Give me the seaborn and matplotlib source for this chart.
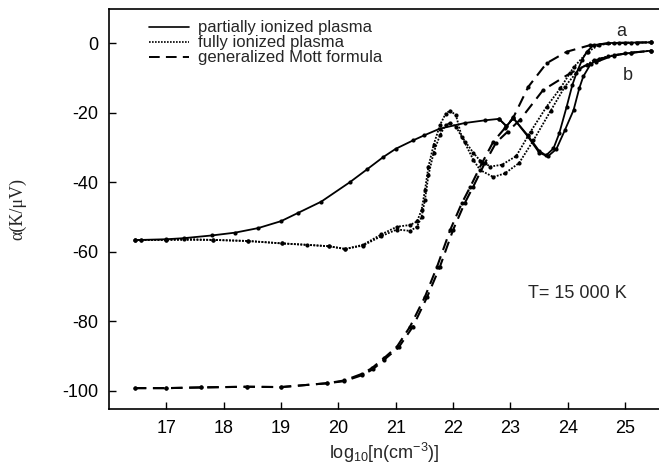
import matplotlib
matplotlib.use("Agg")
import matplotlib.pyplot as plt
from matplotlib.lines import Line2D
import seaborn as sns

# ---- data ----
partial_a_x = [16.45, 16.55, 17.0, 17.3, 17.8, 18.2, 18.6, 19.0, 19.3, 19.7, 20.2, 20.5, 20.78,
               21.0, 21.3, 21.5, 21.77, 22.2, 22.56, 22.8, 22.93, 23.05, 23.3, 23.5, 23.62,
               23.75, 23.85, 23.98, 24.08, 24.15, 24.25, 24.33, 24.45, 24.7, 25.0, 25.45]
partial_a_y = [-56.6, -56.6, -56.4, -56.1, -55.3, -54.5, -53.2, -51.2, -48.8, -45.6, -40.0,
               -36.3, -32.8, -30.4, -28.0, -26.5, -24.6, -23.0, -22.2, -21.8, -23.9, -21.6,
               -26.5, -31.0, -32.3, -30.3, -26.0, -18.3, -12.0, -8.7, -4.8, -2.5, -0.6, 0.0,
               0.1, 0.2]
partial_b_x = [22.8, 22.93, 23.05, 23.3, 23.5, 23.65, 23.8, 23.95, 24.1, 24.2, 24.27, 24.4,
               24.55, 24.8, 25.1, 25.45]
partial_b_y = [-21.8, -23.9, -21.6, -26.8, -31.5, -32.6, -30.5, -25.0, -19.3, -13.0, -9.6, -6.0,
               -4.5, -3.6, -2.8, -2.2]

full_a_x = [16.45, 16.55, 17.0, 17.3, 17.82, 18.42, 19.02, 19.45, 19.83, 20.12, 20.43, 20.75,
            21.02, 21.25, 21.37, 21.45, 21.51, 21.57, 21.66, 21.77, 21.87, 21.95, 22.05, 22.15,
            22.35, 22.47, 22.65, 22.85, 23.1, 23.35, 23.63, 23.87, 24.1, 24.35, 24.55, 24.9,
            25.2, 25.45]
full_a_y = [-56.6, -56.6, -56.6, -56.3, -56.6, -56.9, -57.6, -58.0, -58.4, -59.2, -58.0, -55.0,
            -52.8, -52.3, -51.3, -48.0, -42.2, -35.5, -29.3, -23.6, -20.3, -19.4, -20.8, -26.9,
            -31.5, -33.8, -35.5, -35.0, -32.5, -25.5, -18.3, -13.0, -7.0, -2.5, -0.5, 0.0,
            0.1, 0.2]
full_b_x = [16.45, 17.0, 17.82, 18.42, 19.02, 19.83, 20.12, 20.43, 20.75, 21.02, 21.25, 21.37,
            21.45, 21.51, 21.57, 21.66, 21.77, 21.87, 21.95, 22.05, 22.2, 22.35, 22.47, 22.7,
            22.9, 23.15, 23.4, 23.7, 23.95, 24.2, 24.45, 24.7, 25.0, 25.45]
full_b_y = [-56.6, -56.6, -56.6, -56.9, -57.6, -58.4, -59.2, -58.2, -55.5, -53.6, -54.0, -52.8,
            -50.0, -45.0, -38.0, -31.5, -26.5, -23.5, -23.0, -24.0, -28.5, -33.5, -36.5, -38.5,
            -37.5, -34.5, -28.0, -19.5, -12.5, -7.5, -5.0, -3.8, -3.0, -2.2]

mott_a_x = [16.45, 17.0, 17.6, 18.4, 19.0, 19.8, 20.1, 20.41, 20.58, 20.8, 21.02, 21.25, 21.51,
            21.72, 21.95, 22.15, 22.3, 22.5, 22.7, 22.9, 23.05, 23.31, 23.63, 23.98, 24.39,
            24.8, 25.1, 25.45]
mott_a_y = [-99.2, -99.2, -99.0, -98.8, -98.9, -97.8, -97.0, -95.1, -93.5, -90.5, -87.3, -81.5,
            -72.9, -64.3, -53.7, -46.1, -41.3, -34.6, -28.4, -24.5, -21.4, -12.6, -5.8, -2.5,
            -0.6, 0.0, 0.1, 0.2]
mott_b_x = [16.45, 17.0, 17.6, 18.4, 19.0, 19.8, 20.1, 20.41, 20.6, 20.8, 21.05, 21.3, 21.55,
            21.77, 22.0, 22.2, 22.35, 22.55, 22.75, 22.95, 23.17, 23.57, 24.04, 24.33, 24.5,
            24.8, 25.1, 25.45]
mott_b_y = [-99.2, -99.2, -99.0, -98.8, -98.9, -97.8, -97.2, -95.5, -93.8, -91.0, -87.5, -81.5,
            -72.9, -64.3, -53.7, -46.1, -41.3, -34.6, -28.6, -25.5, -22.0, -13.5, -8.7, -6.3,
            -5.4, -3.5, -2.8, -2.2]

legend_labels = ["partially ionized plasma", "fully ionized plasma", "generalized Mott formula"]
x_ticks = [17, 18, 19, 20, 21, 22, 23, 24, 25]
y_ticks = [0, -20, -40, -60, -80, -100]

# ---- figure ----
sns.set_style("ticks")
plt.rcParams["font.family"] = ["Liberation Sans", "DejaVu Sans"]
plt.rcParams["mathtext.fontset"] = "custom"
plt.rcParams["mathtext.rm"] = "Liberation Sans"
plt.rcParams["mathtext.it"] = "Liberation Sans:italic"

W, H = 659, 467
fig = plt.figure(figsize=(W / 100, H / 100), dpi=100)
ax = fig.add_axes([109 / W, 1 - 409 / H, 1 - 109 / W, (409 - 9.3) / H])

dotted = (0, (1, 0.8))
dashed = (0, (5.5, 3.2))
series = [
    (partial_a_x, partial_a_y, "-", 1.3),
    (partial_b_x, partial_b_y, "-", 1.3),
    (full_a_x, full_a_y, dotted, 1.3),
    (full_b_x, full_b_y, dotted, 1.3),
    (mott_a_x, mott_a_y, dashed, 1.5),
    (mott_b_x, mott_b_y, dashed, 1.5),
]
for xs, ys, ls, lw in series:
    sns.lineplot(x=xs, y=ys, ax=ax, color="black", linestyle=ls, linewidth=lw,
                 marker="o", markersize=3.0, markeredgewidth=0, sort=False,
                 estimator=None, legend=False)

ax.set_xlim(16.0, 25.59)
ax.set_ylim(-105.2, 9.7)
ax.set_xticks(x_ticks)
ax.set_yticks(y_ticks)
ax.set_xticklabels([str(t) for t in x_ticks])
ax.set_yticklabels([str(t) for t in y_ticks])
ax.tick_params(direction="in", length=5, width=1, labelsize=13, pad=8, colors="black")
for s in ["left", "bottom", "top"]:
    ax.spines[s].set_visible(True)
    ax.spines[s].set_linewidth(1.2)
    ax.spines[s].set_color("black")
ax.spines["right"].set_visible(False)

ax.set_xlabel(r"log$_{\mathregular{10}}$[n(cm$^{\mathregular{-3}}$)]", fontsize=13)
ax.xaxis.set_label_coords(0.5, -0.08)
ax.set_ylabel("α(K/μV)", fontsize=13, family=["Liberation Serif", "DejaVu Serif"])
ax.yaxis.set_label_coords(-0.15, 0.5)

handles = [
    Line2D([], [], color="black", linestyle="-", linewidth=1.2),
    Line2D([], [], color="black", linestyle=dotted, linewidth=1.2),
    Line2D([], [], color="black", linestyle=dashed, linewidth=1.4),
]
ax.legend(handles, legend_labels, loc="upper left", bbox_to_anchor=(0.073, 0.972),
          frameon=False, fontsize=12, handlelength=2.4, handletextpad=0.55,
          labelspacing=0.0, borderpad=0, borderaxespad=0)

ax.text(23.3, -72, "T= 15 000 K", fontsize=13, ha="left", va="center")
ax.text(24.94, 3.2, "a", fontsize=13, ha="center", va="center")
ax.text(25.05, -9.2, "b", fontsize=13, ha="center", va="center")

fig.savefig("out.png", dpi=100)
